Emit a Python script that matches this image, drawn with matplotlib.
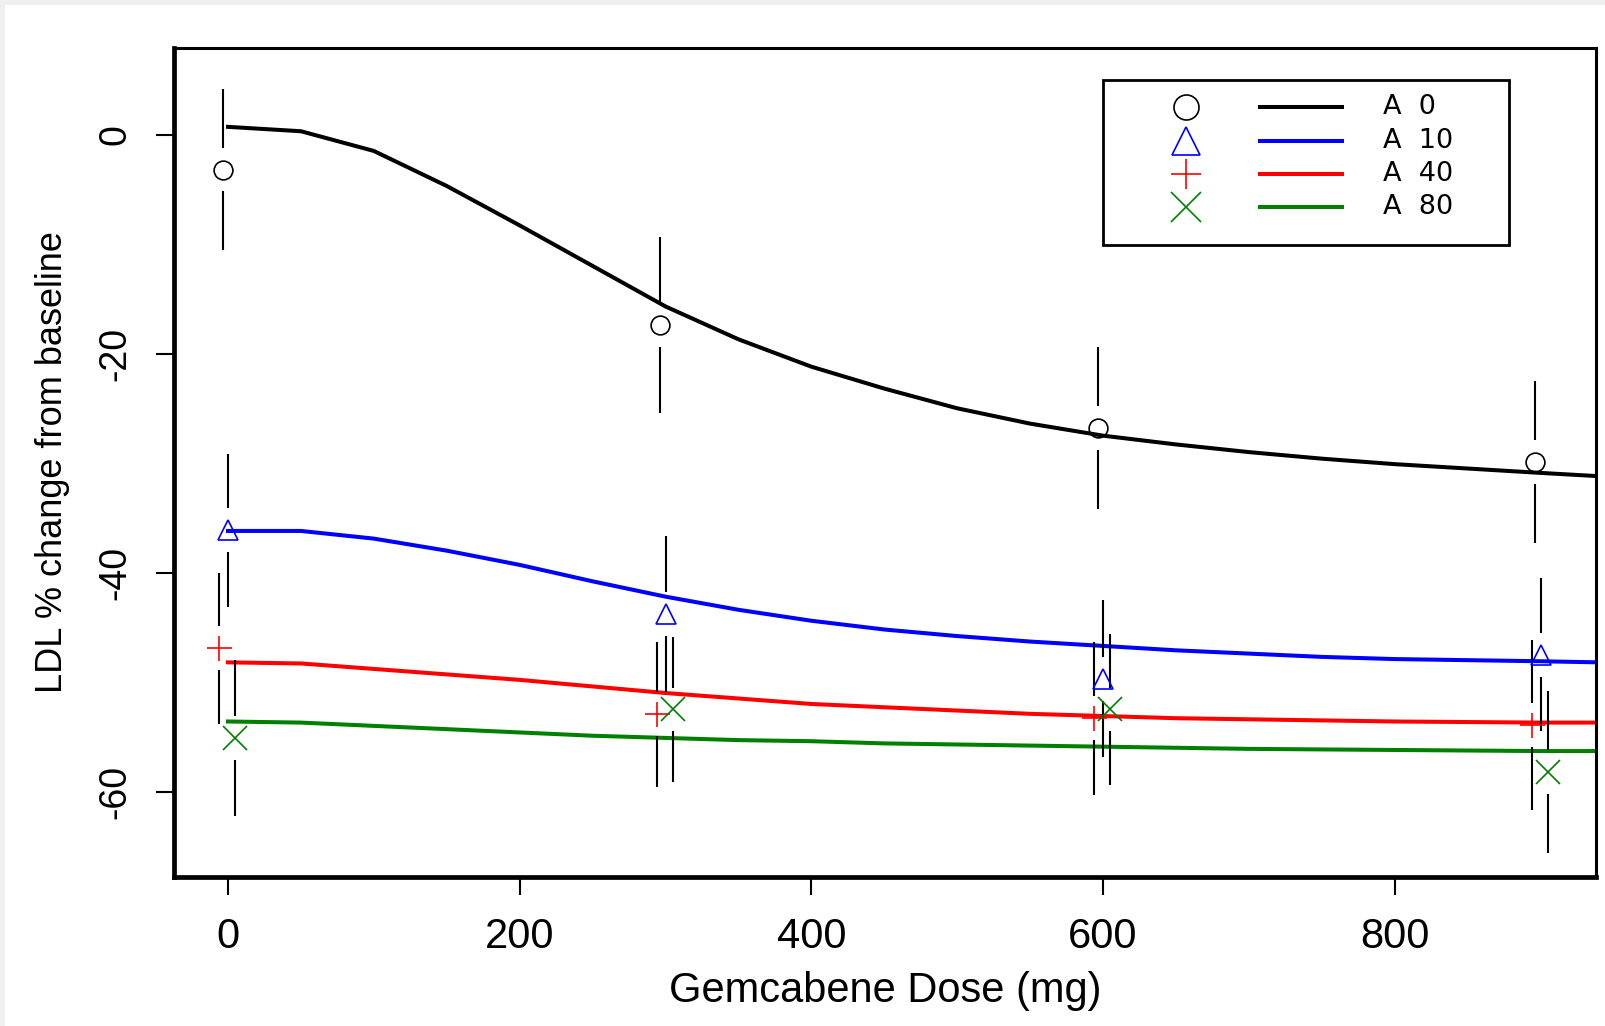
import matplotlib.pyplot as plt
from matplotlib.patches import Rectangle

plt.rcParams['axes.unicode_minus'] = False
axis_font = ['Liberation Sans Narrow', 'Liberation Sans', 'DejaVu Sans']

# observed means (dots) and half-width of the interval bars
doses = [0, 300, 600, 900]
a0_mean = [-3.2, -17.4, -26.8, -29.9]
a0_half = [7.35, 8.05, 7.4, 7.4]
a10_mean = [-36.15, -43.8, -49.7, -47.5]
a10_half = [7.0, 7.1, 7.15, 7.0]
a40_mean = [-46.9, -52.95, -53.3, -53.9]
a40_half = [6.9, 6.65, 7.0, 7.75]
a80_mean = [-55.1, -52.5, -52.5, -58.2]
a80_half = [7.15, 6.6, 6.9, 7.4]

# model curves
curve_dose = [0, 50, 100, 150, 200, 250, 300, 350, 400, 450, 500,
              550, 600, 650, 700, 750, 800, 850, 900, 940]
a0_fit = [0.7, 0.3, -1.5, -4.7, -8.3, -12.0, -15.7, -18.7, -21.2, -23.2, -25.0,
          -26.4, -27.5, -28.3, -29.0, -29.6, -30.1, -30.5, -30.9, -31.2]
a10_fit = [-36.2, -36.2, -36.9, -38.0, -39.3, -40.8, -42.2, -43.4, -44.4, -45.2, -45.8,
           -46.3, -46.7, -47.1, -47.4, -47.7, -47.9, -48.0, -48.1, -48.2]
a40_fit = [-48.2, -48.3, -48.8, -49.3, -49.8, -50.4, -51.0, -51.5, -52.0, -52.3, -52.6,
           -52.9, -53.1, -53.3, -53.4, -53.5, -53.6, -53.65, -53.7, -53.7]
a80_fit = [-53.6, -53.7, -54.0, -54.3, -54.6, -54.9, -55.1, -55.3, -55.4, -55.6, -55.7,
           -55.8, -55.9, -56.0, -56.1, -56.15, -56.2, -56.25, -56.3, -56.3]

labels = ['A 0', 'A 10', 'A 40', 'A 80']
means = [a0_mean, a10_mean, a40_mean, a80_mean]
halfs = [a0_half, a10_half, a40_half, a80_half]
fits = [a0_fit, a10_fit, a40_fit, a80_fit]

colors = ['black', '#0000FF', '#FF0000', '#008000']
markers = ['o', '^', '+', 'x']
msizes = [13.5, 15, 18, 17]
lg_msizes = [18, 20, 22, 21]
x_offset = [-3.5, 0, -6, 5]
gap = 2.0

fig = plt.figure(figsize=(16.06, 10.26), dpi=100)
fig.patch.set_facecolor('#efefef')
fig.patches.append(Rectangle((5 / 1606, 0), 1, 1021 / 1026, transform=fig.transFigure,
                             facecolor='white', edgecolor='none', zorder=-10))
ax = fig.add_axes([174 / 1606, 1 - 877 / 1026, 1422 / 1606, 829 / 1026])

for i in range(4):
    ax.plot(curve_dose, fits[i], color=colors[i], lw=2.9, zorder=2)

for i in range(4):
    xs = [d + x_offset[i] for d in doses]
    m = means[i]
    h = halfs[i]
    ax.vlines(xs, [v + gap for v in m], [v + hh for v, hh in zip(m, h)],
              color='black', lw=1.5, zorder=3)
    ax.vlines(xs, [v - gap for v in m], [v - hh for v, hh in zip(m, h)],
              color='black', lw=1.5, zorder=3)
    ax.plot(xs, m, linestyle='none', marker=markers[i], ms=msizes[i],
            mfc='none', mec=colors[i], mew=1.2, zorder=4)

ax.set_xlim(-37, 938)
ax.set_ylim(-67.8, 7.9)
ax.set_xticks([0, 200, 400, 600, 800])
ax.set_yticks([0, -20, -40, -60])
ax.tick_params(length=13, width=1.5, pad=16)
ax.tick_params(axis='x', labelsize=30)
ax.tick_params(axis='y', labelsize=27)
for lab in ax.get_xticklabels() + ax.get_yticklabels():
    lab.set_family(axis_font)
for lab in ax.get_yticklabels():
    lab.set_rotation(90)
    lab.set_va('center')

for side in ['left', 'bottom']:
    ax.spines[side].set_linewidth(3.4)
for side in ['top', 'right']:
    ax.spines[side].set_linewidth(2.2)

ax.set_xlabel('Gemcabene Dose (mg)', fontsize=30, family=axis_font, va='center')
ax.xaxis.set_label_coords(0.5, -0.1375)
ax.set_ylabel('LDL % change from baseline', fontsize=26, family=axis_font,
              va='center', ha='center')
ax.yaxis.set_label_coords(-0.0851, 0.5)

# legend drawn by hand (marker column, line column, label column)
ax.add_patch(Rectangle((0.6533, 0.7624), 0.2855, 0.199, transform=ax.transAxes,
                       facecolor='white', edgecolor='black', lw=2.0, zorder=5))
rows_y = [0.9284, 0.8882, 0.8480, 0.8077]
for i in range(4):
    ax.plot([0.7115], [rows_y[i]], transform=ax.transAxes, marker=markers[i],
            ms=lg_msizes[i], mfc='none', mec=colors[i], mew=1.2, zorder=6, clip_on=False)
    ax.plot([0.7626, 0.8228], [rows_y[i]] * 2, transform=ax.transAxes,
            color=colors[i], lw=2.9, zorder=6, solid_capstyle='butt')
    ax.text(0.850, rows_y[i], labels[i].replace(' ', '  '), transform=ax.transAxes,
            fontsize=19.5, family='DejaVu Sans', va='center', ha='left', zorder=6)

plt.savefig('out.png', dpi=100)
